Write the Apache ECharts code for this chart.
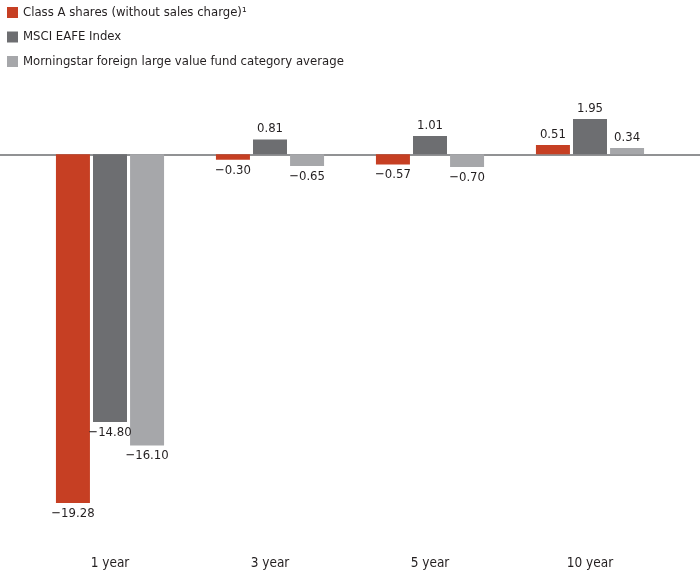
<!DOCTYPE html>
<html><head><meta charset="utf-8">
<script src="https://cdn.jsdelivr.net/npm/echarts@6/dist/echarts.min.js"></script>
<style>html,body{margin:0;padding:0;background:#fff}#c{width:700px;height:571px}</style>
</head><body><div id="c"></div>
<script>
const categories = ['1 year', '3 year', '5 year', '10 year'];
const seriesNames = ['Class A shares (without sales charge)\u00B9', 'MSCI EAFE Index', 'Morningstar foreign large value fund category average'];
const classA = [-19.28, -0.30, -0.57, 0.51];
const msciEafe = [-14.80, 0.81, 1.01, 1.95];
const morningstar = [-16.10, -0.65, -0.70, 0.34];
const colors = ['#c63f23', '#6d6e71', '#a6a7aa'];

const font = '"Liberation Sans Narrow", "DejaVu Sans Condensed", "Open Sans", sans-serif';
function fmt(v) { return (v < 0 ? '\u2212' : '') + Math.abs(v).toFixed(2); }
function mk(arr) {
  return arr.map(v => ({ value: v, label: { position: v < 0 ? 'bottom' : 'top' } }));
}
const vals = [classA, msciEafe, morningstar];
const series = vals.map((arr, i) => ({
  name: seriesNames[i], type: 'bar', xAxisIndex: 0, yAxisIndex: 0,
  data: mk(arr), barWidth: 34, barGap: '9%',
  itemStyle: { color: colors[i] },
  label: { show: true, formatter: p => fmt(p.value), color: '#231f20', fontSize: 13, fontFamily: font, distance: 4 }
}));
series.push({ type: 'line', xAxisIndex: 1, yAxisIndex: 1, data: [], silent: true });

const chart = echarts.init(document.getElementById('c'));
chart.setOption({
  animation: false,
  color: colors,
  legend: {
    orient: 'vertical', left: 2, top: 1, itemGap: 11.5, itemWidth: 11, itemHeight: 11, icon: 'rect',
    data: seriesNames,
    textStyle: { fontSize: 13, color: '#231f20', fontFamily: font }
  },
  grid: [
    { left: 30, right: 30, top: 100, bottom: 55 },
    { left: 0, right: 0, top: 100, bottom: 55 }
  ],
  xAxis: [
    { type: 'category', gridIndex: 0, data: categories, position: 'bottom',
      axisLine: { show: false, onZero: false }, axisTick: { show: false },
      axisLabel: { margin: 40, fontSize: 13.5, color: '#231f20', fontFamily: font } },
    { type: 'value', gridIndex: 1, min: 0, max: 1,
      axisLine: { show: true, onZero: true, lineStyle: { color: '#6d6e71', width: 1.5 } },
      axisTick: { show: false }, axisLabel: { show: false }, splitLine: { show: false } }
  ],
  yAxis: [
    { type: 'value', gridIndex: 0, min: -20, max: 3, show: false, splitLine: { show: false } },
    { type: 'value', gridIndex: 1, min: -20, max: 3, show: false, splitLine: { show: false } }
  ],
  series: series
});
</script></body></html>
